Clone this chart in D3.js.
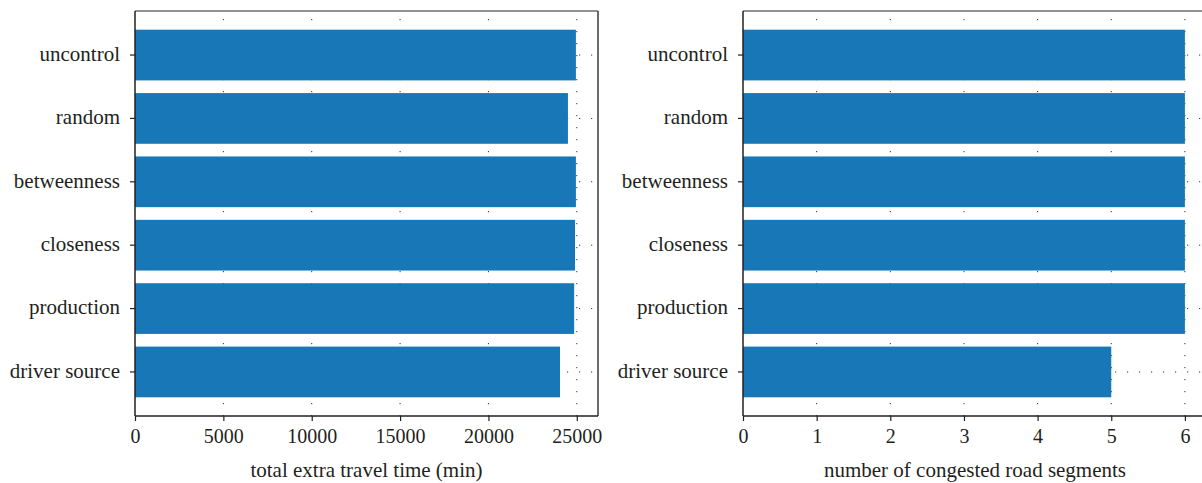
<!DOCTYPE html>
<html>
<head>
<meta charset="utf-8">
<script src="https://cdn.jsdelivr.net/npm/d3@7"></script>
<style>
  html, body { margin: 0; padding: 0; background: #fff; }
  svg { display: block; }
  text { font-family: "Liberation Serif", "DejaVu Serif", serif; fill: #231f20; }
</style>
</head>
<body>
<svg id="chart" width="1202" height="483"></svg>
<script>
// Control strategies compared in both panels
const categories = ["uncontrol", "random", "betweenness", "closeness", "production", "driver source"];

// Total extra travel time (min) per strategy
const travelTime = [24950, 24500, 24950, 24900, 24850, 24050];
const travelTicks = [0, 5000, 10000, 15000, 20000, 25000];
const travelMax = 26200;

// Number of congested road segments per strategy
const congested = [6, 6, 6, 6, 6, 5];
const congestedTicks = [0, 1, 2, 3, 4, 5, 6];
const congestedMax = 6.3;

const svg = d3.select("#chart");
const barColor = "#1878b7";
const plotTop = 11, plotBottom = 416;
const labelSize = 21, numberSize = 20;

function panel(opts) {
  const { left, right, values, ticks, max, title } = opts;
  const g = svg.append("g");

  const x = d3.scaleLinear().domain([0, max]).range([left, right]);
  const y = d3.scaleBand().domain(categories).range([plotTop, plotBottom])
    .paddingInner(0.2).paddingOuter(0.295);

  // dotted grid: verticals at value ticks, horizontals through category centres
  g.append("g").selectAll("line").data(ticks.filter(t => t > 0)).join("line")
    .attr("x1", d => x(d)).attr("x2", d => x(d))
    .attr("y1", plotTop + 8).attr("y2", plotBottom)
    .attr("stroke", "#333").attr("stroke-width", 1)
    .attr("stroke-dasharray", "1.2,10.8");
  g.append("g").selectAll("line").data(categories).join("line")
    .attr("x1", left).attr("x2", right)
    .attr("y1", d => y(d) + y.bandwidth() / 2).attr("y2", d => y(d) + y.bandwidth() / 2)
    .attr("stroke", "#333").attr("stroke-width", 1)
    .attr("stroke-dasharray", "1.2,10.8");

  // bars
  g.append("g").selectAll("rect").data(categories).join("rect")
    .attr("x", x(0))
    .attr("y", d => y(d))
    .attr("width", (d, i) => x(values[i]) - x(0))
    .attr("height", y.bandwidth())
    .attr("fill", barColor);

  // frame
  g.append("line").attr("x1", left).attr("x2", right).attr("y1", plotTop).attr("y2", plotTop)
    .attr("stroke", "#6d6d6d").attr("stroke-width", 1.5);
  g.append("line").attr("x1", right).attr("x2", right).attr("y1", plotTop).attr("y2", plotBottom)
    .attr("stroke", "#3a3a3a").attr("stroke-width", 1.5);

  // x axis
  const xAxis = d3.axisBottom(x).tickValues(ticks).tickSize(5).tickPadding(8)
    .tickFormat(d3.format("d"));
  const gx = g.append("g").attr("transform", `translate(0,${plotBottom})`).call(xAxis);
  gx.select(".domain").attr("stroke", "#231f20").attr("stroke-width", 1.5)
    .attr("d", `M${left},0H${right}`);
  gx.selectAll(".tick line").attr("stroke", "#231f20").attr("stroke-width", 1.2);
  gx.selectAll(".tick text").attr("font-size", numberSize).attr("font-family", null).attr("fill", "#231f20");

  // y axis
  const yAxis = d3.axisLeft(y).tickSize(5).tickPadding(10);
  const gy = g.append("g").attr("transform", `translate(${left},0)`).call(yAxis);
  gy.select(".domain").attr("stroke", "#231f20").attr("stroke-width", 1.5)
    .attr("d", `M0,${plotTop}V${plotBottom}`);
  gy.selectAll(".tick line").attr("stroke", "#231f20").attr("stroke-width", 1.2);
  gy.selectAll(".tick text").attr("font-size", labelSize).attr("font-family", null)
    .attr("fill", "#231f20").attr("dy", "0.28em");

  // axis title
  g.append("text")
    .attr("x", (left + right) / 2).attr("y", 477)
    .attr("text-anchor", "middle").attr("font-size", labelSize)
    .text(title);
}

panel({ left: 135, right: 598, values: travelTime, ticks: travelTicks, max: travelMax,
        title: "total extra travel time (min)" });
panel({ left: 743, right: 1207, values: congested, ticks: congestedTicks, max: congestedMax,
        title: "number of congested road segments" });
</script>
</body>
</html>
